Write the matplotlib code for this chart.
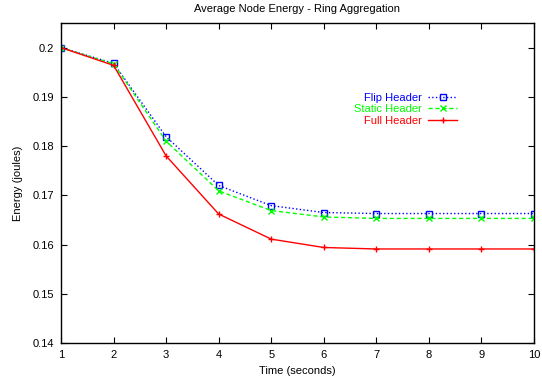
import matplotlib
matplotlib.use("Agg")
import matplotlib.pyplot as plt

plt.rcParams['font.family'] = ['Liberation Sans', 'DejaVu Sans']

time = [1, 2, 3, 4, 5, 6, 7, 8, 9, 10]
flip_header = [0.2, 0.1968, 0.1819, 0.1720, 0.1679, 0.1665, 0.1663, 0.1663, 0.1663, 0.1663]
static_header = [0.2, 0.1967, 0.1810, 0.1709, 0.1669, 0.1656, 0.1653, 0.1653, 0.1653, 0.1653]
full_header = [0.2, 0.1964, 0.1780, 0.1662, 0.1611, 0.1594, 0.1591, 0.1591, 0.1591, 0.1591]
yticks = [0.14, 0.15, 0.16, 0.17, 0.18, 0.19, 0.2]
ytick_labels = ['0.14', '0.15', '0.16', '0.17', '0.18', '0.19', '0.2']

fig = plt.figure(figsize=(5.42, 3.79), dpi=100)
ax = fig.add_axes([61/542, 1-343/379, (534-61)/542, (343-23)/379])

ax.plot(time, flip_header, color='#0000ff', linestyle=':', linewidth=1.0,
        marker='s', markersize=4.5, markerfacecolor='none', markeredgewidth=1.0,
        label='Flip Header')
ax.plot(time, static_header, color='#00ff00', linestyle='--', linewidth=1.0,
        dashes=(3, 2), marker='x', markersize=4.5, markeredgewidth=1.0,
        label='Static Header')
ax.plot(time, full_header, color='#ff0000', linestyle='-', linewidth=1.0,
        marker='+', markersize=5, markeredgewidth=1.0, label='Full Header')

ax.set_xlim(1, 10)
ax.set_ylim(0.14, 0.205)
ax.set_xticks(time)
ax.set_xticklabels([str(t) for t in time])
ax.set_yticks(yticks)
ax.set_yticklabels(ytick_labels)
ax.tick_params(direction='in', top=True, right=True, length=4, width=0.8,
               labelsize=8, colors='black', pad=5)
for s in ax.spines.values():
    s.set_linewidth(1.0)

ax.set_title('Average Node Energy - Ring Aggregation', fontsize=8, pad=8)
ax.set_xlabel('Time (seconds)', fontsize=8, labelpad=4)
ax.set_ylabel('Energy (joules)', fontsize=8, labelpad=7)

leg = ax.legend(loc='upper right', bbox_to_anchor=(0.849, 0.80), frameon=False,
                markerfirst=False, fontsize=8, handlelength=2.6,
                labelspacing=0.15, handletextpad=0.6, labelcolor='linecolor',
                borderpad=0)

fig.savefig('out.png', dpi=100)
